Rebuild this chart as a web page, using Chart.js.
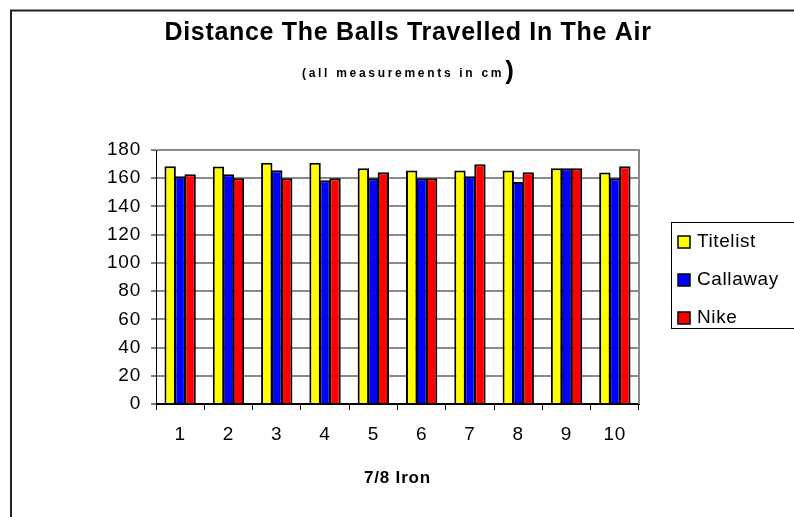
<!DOCTYPE html>
<html lang="en">
<head>
<meta charset="UTF-8">
<title>Distance The Balls Travelled In The Air</title>
<script src="https://cdn.jsdelivr.net/npm/chart.js"></script>
<style>
  body { margin: 0; padding: 0; background: #fff; }
  .wrap { width: 794px; height: 517px; position: relative; }
</style>
</head>
<body>
<div class="wrap"><canvas id="ballChart"></canvas></div>
<script>
// values (cm)
const irons = ['1', '2', '3', '4', '5', '6', '7', '8', '9', '10'];
const titelist = [168.5, 168.3, 171, 171, 167, 165.4, 165.4, 165.4, 167, 164];
const callaway = [161.4, 162.8, 165.6, 158.6, 160, 160, 161.4, 157.4, 167, 160];
const nike = [162.8, 160, 160, 160, 164.2, 160, 169.9, 164.2, 167, 168.5];
const seriesNames = ['Titelist', 'Callaway', 'Nike'];
const seriesColors = ['#FFFF00', '#0000FF', '#FF0000'];

const FONT = 'Arial, "Liberation Sans", sans-serif';

// titles, outer frame, plot border and the boxed legend
const decor = {
    id: 'decor',
    beforeDraw(chart) {
        const ctx = chart.ctx;
        ctx.fillStyle = '#fff';
        ctx.fillRect(0, 0, chart.width, chart.height);
        ctx.letterSpacing = '0.8px';
    },
    afterDraw(chart) {
        const ctx = chart.ctx;
        const area = chart.chartArea;
        ctx.save();

        // right edge of plot area
        ctx.strokeStyle = '#8a8a8a';
        ctx.lineWidth = 2;
        ctx.beginPath();
        ctx.moveTo(area.right, area.top - 1);
        ctx.lineTo(area.right, area.bottom);
        ctx.stroke();

        // outer frame (runs off the right and bottom edges)
        ctx.strokeStyle = '#222';
        ctx.lineWidth = 2;
        ctx.strokeRect(11, 10.5, 820, 540);

        // title
        ctx.fillStyle = '#000';
        ctx.textBaseline = 'middle';
        ctx.textAlign = 'center';
        ctx.letterSpacing = '0.7px';
        ctx.font = 'bold 25px ' + FONT;
        ctx.fillText('Distance The Balls Travelled In The Air', 408, 33);

        // subtitle with the oversized closing bracket
        ctx.textAlign = 'left';
        ctx.letterSpacing = '2.7px';
        ctx.font = 'bold 12px ' + FONT;
        const sub = '(all measurements in cm';
        ctx.fillText(sub, 302, 74);
        const w = ctx.measureText(sub).width;
        ctx.letterSpacing = '0px';
        ctx.font = 'bold 26px ' + FONT;
        ctx.fillText(')', 302 + w + 1, 72);

        // legend
        const lx = 671.5, ly = 222.5;
        ctx.strokeStyle = '#000';
        ctx.lineWidth = 1;
        ctx.strokeRect(lx, ly, 130, 106);
        ctx.font = '19px ' + FONT;
        ctx.letterSpacing = '0.6px';
        chart.data.datasets.forEach((ds, i) => {
            const cy = 242 + i * 38;
            ctx.fillStyle = ds.backgroundColor;
            ctx.fillRect(678, cy - 6, 12, 12);
            ctx.lineWidth = 1.5;
            ctx.strokeRect(678, cy - 6, 12, 12);
            ctx.fillStyle = '#000';
            ctx.fillText(ds.label, 697, cy);
        });
        ctx.restore();
    }
};

const ctx = document.getElementById('ballChart').getContext('2d');
const ballChart = new Chart(ctx, {
    type: 'bar',
    data: {
        labels: irons,
        datasets: [titelist, callaway, nike].map((vals, i) => ({
            label: seriesNames[i],
            data: vals,
            backgroundColor: seriesColors[i],
            borderColor: '#000',
            borderWidth: 2,
            barPercentage: 1.14,
            categoryPercentage: 0.62
        }))
    },
    options: {
        responsive: true,
        maintainAspectRatio: false,
        animation: false,
        layout: { padding: { top: 150, right: 155, bottom: 0, left: 0 } },
        plugins: {
            legend: { display: false },
            title: { display: false },
            tooltip: { enabled: false }
        },
        scales: {
            x: {
                grid: { offset: true, drawOnChartArea: false, tickLength: 6, color: '#000', lineWidth: 1 },
                border: { color: '#000', width: 1 },
                ticks: { color: '#000', font: { family: FONT, size: 19 }, padding: 13, maxRotation: 0 },
                title: {
                    display: true,
                    text: '7/8 Iron',
                    color: '#000',
                    font: { family: FONT, size: 17, weight: 'bold' },
                    padding: { top: 0, bottom: 28 }
                },
                afterFit: (s) => { s.height = 113; }
            },
            y: {
                min: 0,
                max: 180,
                ticks: { stepSize: 20, color: '#000', font: { family: FONT, size: 19 }, padding: 10 },
                grid: {
                    color: (c) => (c.index === 0 ? '#000' : '#8a8a8a'),
                    lineWidth: 2,
                    tickLength: 5,
                    tickColor: '#000',
                    tickWidth: 1
                },
                border: { color: '#000', width: 1 },
                afterFit: (s) => { s.width = 156; }
            }
        }
    },
    plugins: [decor]
});
</script>
</body>
</html>
